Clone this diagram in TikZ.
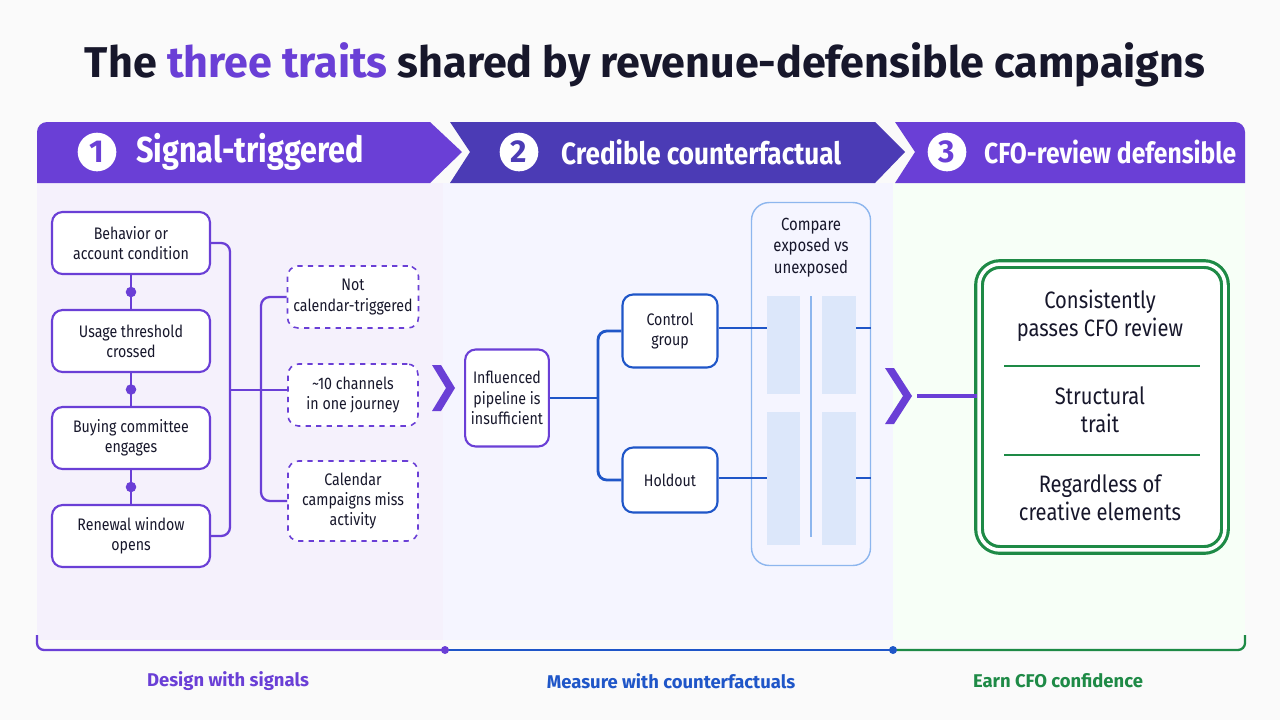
\documentclass[tikz,border=0pt]{standalone}
\usepackage{fontspec}
\setmainfont{Fira Sans}[FakeStretch=0.85]
\newfontfamily\widefont{Fira Sans}
\usetikzlibrary{positioning}
\definecolor{pur}{HTML}{6A3FD6}
\definecolor{purd}{HTML}{4B3BB5}
\definecolor{blu}{HTML}{1F56C8}
\definecolor{grn}{HTML}{1E8A46}
\definecolor{ink}{HTML}{17172B}
\definecolor{barc}{HTML}{DCE7FA}
\definecolor{cmpc}{HTML}{8DB6EE}
\tikzset{
  box/.style={draw=pur,line width=1.2pt,rounded corners=6pt,fill=white,align=center,font=\fontsize{9.5}{11.5}\selectfont,text=ink},
  dbox/.style={box,dashed,line width=0.9pt},
  bbox/.style={box,draw=blu},
  link/.style={pur,line width=1.3pt,rounded corners=5pt},
  blink/.style={blu,line width=1.6pt,rounded corners=5pt},
  head/.style={text=white,anchor=west},
  num/.style={circle,fill=white,minimum size=22pt,inner sep=0pt,font=\widefont\fontsize{18}{22}\selectfont\bfseries},
  foot/.style={font=\widefont\fontsize{10.5}{12}\selectfont\bfseries},
  cfot/.style={align=center,font=\fontsize{13.5}{16}\selectfont,text=ink},
  dot/.style={circle,fill=pur,inner sep=0pt,minimum size=6pt},
  bar/.style={fill=barc,draw=none}
}
\begin{document}
\begin{tikzpicture}[x=0.02cm,y=-0.02cm]
  \useasboundingbox[fill=gray!4] (0,0) rectangle (1280,720);
  % title
  \node[font=\widefont\fontsize{24.5}{30}\selectfont\bfseries,text=ink] (title) at (645,65)
    {The \textcolor{pur}{three traits} shared by revenue-defensible campaigns};
  % panels
  \fill[pur!7] (37,183) rectangle (443,640);
  \fill[blue!4] (443,183) rectangle (893,640);
  \fill[green!3] (893,183) rectangle (1245,640);
  \fill[pur] (37,183) -- (37,132) arc (180:270:10) -- (430,122) -- (462,152) -- (430,183) -- cycle;
  \fill[purd] (450,122) -- (875,122) -- (905,152) -- (875,183) -- (450,183) -- (470,152) -- cycle;
  \fill[pur] (895,122) -- (1235,122) arc (-90:0:10) -- (1245,183) -- (895,183) -- (915,152) -- cycle;
  \node[num,text=pur] (n1) at (97,152) {1};
  \node[head,font=\fontsize{20.5}{24}\selectfont\bfseries] (h1) at (130,152) {Signal-triggered};
  \node[num,text=purd] (n2) at (519,152) {2};
  \node[head,font=\fontsize{17.5}{22}\selectfont\bfseries] (h2) at (555,152) {Credible counterfactual};
  \node[num,text=pur] (n3) at (947,152) {3};
  \node[head,font=\fontsize{16.5}{20}\selectfont\bfseries] (h3) at (978,152) {CFO-review defensible};
  % footer
  \coordinate (fa) at (37,635);
  \coordinate (fb) at (445,650);
  \coordinate (fc) at (893,650);
  \coordinate (fd) at (1245,635);
  \draw[pur,line width=1.3pt,rounded corners=4pt] (fa) |- (fb);
  \draw[blu,line width=1.3pt] (fb) -- (fc);
  \draw[grn,line width=1.3pt,rounded corners=4pt] (fc) -| (fd);
  \fill[pur] (fb) circle (4);
  \fill[blu] (fc) circle (4);
  \node[foot,text=pur] (l1) at (228,681) {Design with signals};
  \node[foot,text=blu] (l2) at (671,681) {Measure with counterfactuals};
  \node[foot,text=grn] (l3) at (1058,681) {Earn CFO confidence};
  % signals
  \node[box,minimum width=3.16cm,minimum height=1.24cm] (s1) at (131,243) {Behavior or\\account condition};
  \node[box,minimum width=3.16cm,minimum height=1.24cm] (s2) at (131,341) {Usage threshold\\crossed};
  \node[box,minimum width=3.16cm,minimum height=1.24cm] (s3) at (131,438) {Buying committee\\engages};
  \node[box,minimum width=3.16cm,minimum height=1.24cm] (s4) at (131,536) {Renewal window\\opens};
  \foreach \a/\b in {s1/s2,s2/s3,s3/s4} {
    \draw[pur,line width=1.3pt] (\a) -- (\b) node[dot,midway] {};
  }
  \node[dbox,minimum width=2.6cm,minimum height=1.24cm] (d1) at (353,297) {Not\\calendar-triggered};
  \node[dbox,minimum width=2.6cm,minimum height=1.24cm] (d2) at (353,395) {\textasciitilde10 channels\\in one journey};
  \node[dbox,minimum width=2.6cm,minimum height=1.6cm] (d3) at (353,501) {Calendar\\campaigns miss\\activity};
  \coordinate (jx) at (230,390);
  \coordinate (ky) at (261,390);
  \draw[link] (s1.east) -| (jx) |- (s4.east);
  \draw[link] (jx) -- (d2.west |- jx);
  \draw[link] (d1.west) -| (ky) |- (d3.west);
  \fill[pur] (432,365) -- (441,365) -- (455,388) -- (441,411) -- (432,411) -- (446,388) -- cycle;
  % counterfactual
  \node[bbox,draw=pur,minimum width=1.64cm,minimum height=1.94cm] (inf) at (507,398) {Influenced\\pipeline is\\insufficient};
  \node[bbox,minimum width=1.9cm,minimum height=1.46cm] (ctl) at (670,331) {Control\\group};
  \node[bbox,minimum width=1.9cm,minimum height=1.3cm] (hold) at (670,480) {Holdout};
  \coordinate (bj) at (598,398);
  \draw[blink] (inf.east) -- (bj);
  \draw[blink] (ctl.west) -| (bj) |- (hold.west);
  \node[draw=cmpc,line width=0.8pt,rounded corners=10pt,minimum width=2.38cm,minimum height=7.26cm] (cmp) at (811,384) {};
  \node[align=center,font=\fontsize{10}{12}\selectfont,text=ink,below=6pt of cmp.north,anchor=north] (cmpt) {Compare\\exposed vs\\unexposed};
  \fill[bar] (767,296) rectangle (800,394);
  \fill[bar] (822,296) rectangle (856,394);
  \fill[bar] (767,412) rectangle (800,545);
  \fill[bar] (822,412) rectangle (856,545);
  \draw[cmpc,line width=0.6pt] (811,296) -- (811,537);
  \draw[blink] (ctl.east |- 0,328) -- (767,328);
  \draw[blink] (hold.east |- 0,478) -- (767,478);
  \draw[blink] (856,328) -- (cmp.east |- 0,328);
  \draw[blink] (856,478) -- (cmp.east |- 0,478);
  % CFO
  \fill[pur] (885,368) -- (894,368) -- (912,396) -- (894,424) -- (885,424) -- (903,396) -- cycle;
  \node[draw=grn,line width=1.8pt,double=white,double distance=2pt,rounded corners=12pt,fill=white,minimum width=4.92cm,minimum height=5.72cm] (cfo) at (1102,407) {};
  \coordinate (cin) at (917,396);
  \draw[pur,line width=2pt] (cin) -- (cfo.west |- cin);
  \node[cfot] (c1) at (1100,316) {Consistently\\passes CFO review};
  \node[cfot] (c2) at (1100,410) {Structural\\trait};
  \node[cfot] (c3) at (1100,498) {Regardless of\\creative elements};
  \draw[grn,line width=0.8pt] (1004,366) -- (1200,366);
  \draw[grn,line width=0.8pt] (1004,455) -- (1200,455);
\end{tikzpicture}
\end{document}
